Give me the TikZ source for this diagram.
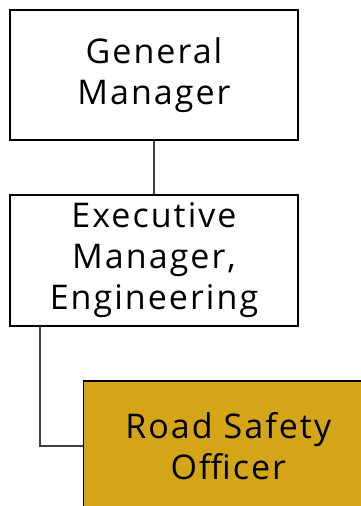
\documentclass[tikz,border=0pt]{standalone}
\usepackage{fontspec}
\setmainfont{Open Sans}[LetterSpace=6]
\definecolor{gold}{HTML}{D4A517}
\definecolor{conn}{HTML}{404040}
\begin{document}
\begin{tikzpicture}[x=1pt,y=1pt,
  box/.style={draw=black,line width=1.6pt,rectangle,align=center,font=\fontsize{34}{41}\selectfont,inner sep=0pt},
  link/.style={draw=conn,line width=1.5pt}]
\useasboundingbox (0,0) rectangle (360,-506);
\fill[white] (0,0) rectangle (360,-506);
\node[box,minimum width=288,minimum height=130] (gm) at (154,-75) {General\\Manager};
\node[box,minimum width=288,minimum height=131] (em) at (154,-260.5) {Executive\\Manager,\\Engineering};
\node[box,fill=gold,minimum width=290,minimum height=130,anchor=north west] (rso) at (82.5,-380) {Road Safety\\Officer};
\coordinate (c1) at (40,-326);
\draw[link] (gm.south) -- (em.north);
\draw[link] (c1) |- (rso.west);
\end{tikzpicture}
\end{document}
